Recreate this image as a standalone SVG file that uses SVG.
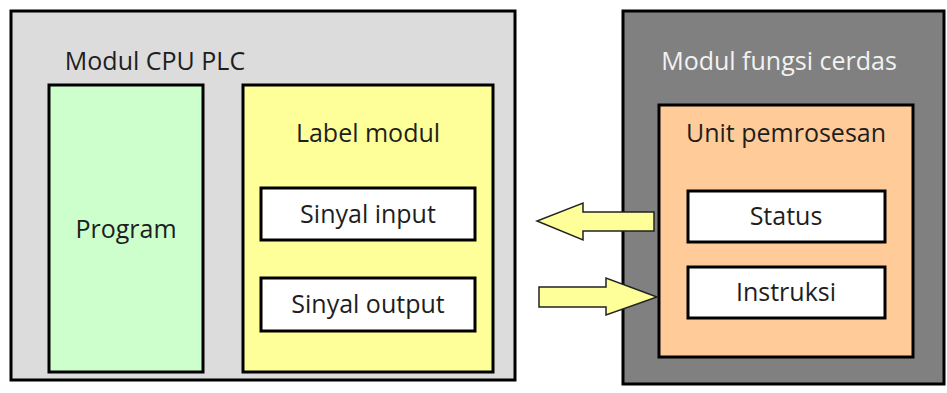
<svg xmlns="http://www.w3.org/2000/svg" width="947" height="393" viewBox="0 0 947 393">
<style>
.b{stroke:#000;stroke-width:3}
.t{font-family:"Open Sans","Noto Sans",sans-serif;font-size:25px;fill:#1e1e1e;text-anchor:middle}
.a{fill:#ffff99;stroke:#222;stroke-width:1.5;stroke-linejoin:miter}
</style>
<rect width="947" height="393" fill="#fff"/>
<g id="cpu">
<rect class="b" x="11" y="11" width="504" height="369" fill="#dcdcdc"/>
<text class="t" x="155" y="70">Modul CPU PLC</text>
</g>
<g id="program">
<rect class="b" x="49" y="85" width="154" height="287" fill="#ccffcc"/>
<text class="t" x="126" y="238">Program</text>
</g>
<g id="label">
<rect class="b" x="243" y="85" width="250" height="287" fill="#ffff99"/>
<text class="t" x="368" y="142">Label modul</text>
</g>
<g id="input">
<rect class="b" x="261" y="188" width="214" height="52" fill="#fff"/>
<text class="t" x="368" y="223">Sinyal input</text>
</g>
<g id="output">
<rect class="b" x="261" y="278" width="214" height="53" fill="#fff"/>
<text class="t" x="368" y="313">Sinyal output</text>
</g>
<g id="smart">
<rect class="b" x="623" y="11" width="321" height="373" fill="#808080"/>
<text class="t" x="779" y="70" style="fill:#f2f2f2">Modul fungsi cerdas</text>
</g>
<g id="unit">
<rect class="b" x="659" y="105" width="254" height="252" fill="#ffcc99"/>
<text class="t" x="786" y="142">Unit pemrosesan</text>
</g>
<g id="status">
<rect class="b" x="688" y="191" width="197" height="51" fill="#fff"/>
<text class="t" x="786" y="225">Status</text>
</g>
<g id="instruksi">
<rect class="b" x="688" y="267" width="197" height="51" fill="#fff"/>
<text class="t" x="786" y="301">Instruksi</text>
</g>
<g id="connectors">
<polygon class="a" points="654,212 583,212 583,203 537,221 583,240 583,231 654,231"/>
<polygon class="a" points="539,287 606,287 606,278 657,297 606,315 606,307 539,307"/>
</g>
</svg>
